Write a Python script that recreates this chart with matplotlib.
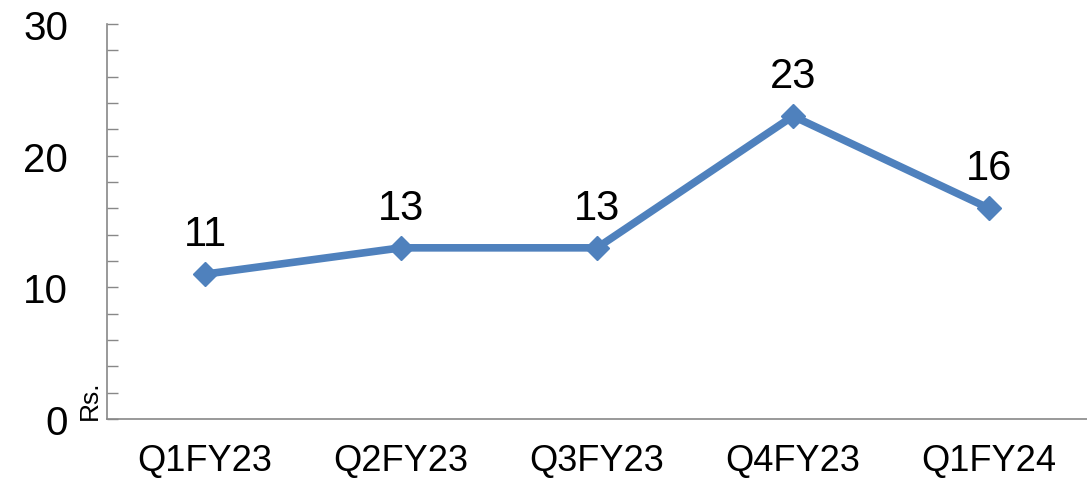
import matplotlib
matplotlib.use('Agg')
import matplotlib.pyplot as plt
from matplotlib.ticker import MultipleLocator

plt.rcParams['font.family'] = ['Liberation Sans', 'DejaVu Sans']

# data
quarters = ['Q1FY23', 'Q2FY23', 'Q3FY23', 'Q4FY23', 'Q1FY24']
values = [11, 13, 13, 23, 16]

fig = plt.figure(figsize=(10.87, 4.81), dpi=100)
ax = fig.add_axes([107 / 1087, 1 - 420 / 481, 1 - 107 / 1087, (420 - 25) / 481])

x = list(range(len(quarters)))
ax.plot(x, values, color='#4F81BD', linewidth=5.5, marker='D', markersize=12,
        markerfacecolor='#4F81BD', markeredgecolor='#4F81BD', clip_on=False)

# data labels above each point
for xi, v in zip(x, values):
    ax.annotate(str(v), (xi, v), xytext=(0, 21), textcoords='offset points',
                ha='center', va='baseline', fontsize=30, color='black')

ax.set_xlim(-0.5, len(quarters) - 0.5)
ax.set_ylim(0, 30)
ax.set_xticks(x)
ax.set_xticklabels(quarters, fontsize=26)
ax.set_yticks([0, 10, 20, 30])
ax.set_yticklabels(['0', '10', '20', '30'], fontsize=29)
ax.yaxis.set_minor_locator(MultipleLocator(2))

ax.tick_params(axis='x', length=0, pad=17)
ax.tick_params(axis='y', which='major', direction='in', length=8, width=1,
               color='#888888', pad=28)
ax.tick_params(axis='y', which='minor', direction='in', length=8, width=1,
               color='#888888')

for side in ['top', 'right']:
    ax.spines[side].set_visible(False)
for side in ['left', 'bottom']:
    ax.spines[side].set_color('#888888')
    ax.spines[side].set_linewidth(1.2)

# unit label next to the axis origin
fig.text(90 / 1087, 1 - 400 / 481, 'Rs.', rotation=90, ha='center', va='center',
         fontsize=19)

fig.savefig('out.png', dpi=100)
